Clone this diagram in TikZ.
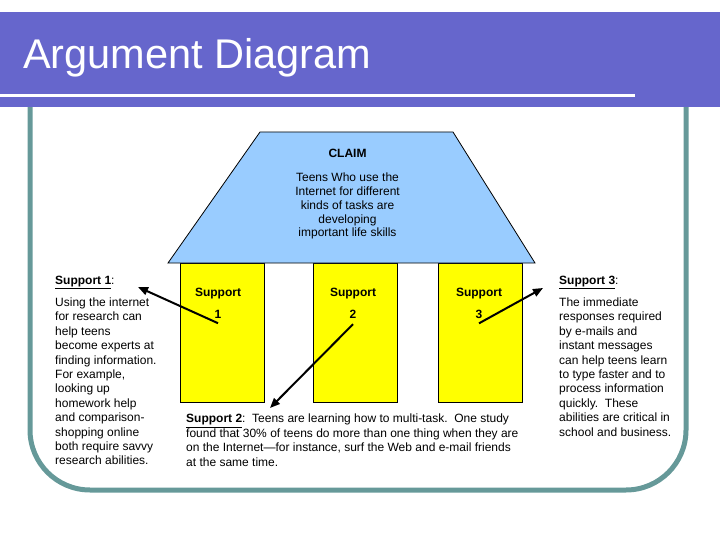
\documentclass[tikz,border=0pt]{standalone}
\usepackage{fontspec}
\setmainfont{Liberation Sans}
\usetikzlibrary{arrows.meta}
\definecolor{barpurple}{HTML}{6666CC}
\definecolor{frameteal}{HTML}{669999}
\definecolor{claimblue}{HTML}{99CCFF}
\definecolor{supyellow}{HTML}{FFFF00}
\tikzset{
  body/.style={inner sep=0pt, align=left, anchor=north west,
    font=\fontsize{12}{14.4}\selectfont},
  pillar/.style={draw=black, line width=0.8pt, fill=supyellow,
    minimum width=84pt, minimum height=139pt, inner sep=0pt},
  pillartext/.style={inner sep=0pt, anchor=base,
    font=\fontsize{12}{14.4}\selectfont\bfseries},
  arr/.style={draw=black, line width=2pt,
    -{Triangle[length=10pt,width=8pt]}},
}
\newcommand{\suplabel}[1]{\underline{\textbf{#1}}:}
\begin{document}
\begin{tikzpicture}[x=1pt,y=-1pt]
\useasboundingbox (0,0) rectangle (720,540);
% frame
\draw[frameteal, line width=5pt, rounded corners=60pt]
  (30,100) -- (30,490) -- (686,490) -- (686,100);
% title bar
\fill[barpurple] (0,12) rectangle (720,107);
\fill[white] (0,94) rectangle (635,97.5);
\node[anchor=base west, inner sep=0pt, text=white,
  font=\fontsize{41.5}{41.5}\selectfont] (title) at (23,68.5) {Argument Diagram};
% pillars
\node[pillar] (r1) at (222,332.5) {};
\node[pillar] (r2) at (355,332.5) {};
\node[pillar] (r3) at (480.5,332.5) {};
% claim trapezoid
\coordinate (tl) at (260,132);
\coordinate (tr) at (453,132);
\coordinate (br) at (535,263);
\coordinate (bl) at (168,263);
\draw[black, line width=0.8pt, fill=claimblue] (tl) -- (tr) -- (br) -- (bl) -- cycle;
\node[inner sep=0pt, anchor=base, font=\fontsize{12}{14}\selectfont\bfseries] (claimhead) at (347.5,158) {CLAIM};
\node[inner sep=0pt, anchor=north, align=center,
  font=\fontsize{12}{13.9}\selectfont] (claim) at (347.5,172.5)
  {Teens Who use the\\Internet for different\\kinds of tasks are\\developing\\important life skills};
% pillar labels
\node[pillartext] (p1) at (218,296.5) {Support};
\node[pillartext] (n1) at (218,318) {1};
\node[pillartext] (p2) at (353,296.5) {Support};
\node[pillartext] (n2) at (353,318) {2};
\node[pillartext] (p3) at (479,296.5) {Support};
\node[pillartext] (n3) at (479,318) {3};
% support texts
\node[body] (s1h) at (55,276) {\suplabel{Support 1}};
\node[body] (s1) at (55,297.7)
  {Using the internet\\for research can\\help teens\\become experts at\\finding information.\\For example,\\looking up\\homework help\\and comparison-\\shopping online\\both require savvy\\research abilities.};
\node[body] (s2) at (186,414)
  {\suplabel{Support 2}\ \ Teens are learning how to multi-task.\ \ One study\\found that 30\% of teens do more than one thing when they are\\on the Internet---for instance, surf the Web and e-mail friends\\at the same time.};
\node[body] (s3h) at (559,276) {\suplabel{Support 3}};
\node[body] (s3) at (559,297.7)
  {The immediate\\responses required\\by e-mails and\\instant messages\\can help teens learn\\to type faster and to\\process information\\quickly.\ \ These\\abilities are critical in\\school and business.};
% arrows
\coordinate (e1) at (138,287);
\coordinate (e2) at (270,408);
\coordinate (e3) at (543,288);
\draw[arr] ([yshift=-5pt]n1.south) -- (e1);
\draw[arr] ([yshift=-6pt]n2.south) -- (e2);
\draw[arr] ([yshift=-5pt]n3.south) -- (e3);
\end{tikzpicture}
\end{document}
